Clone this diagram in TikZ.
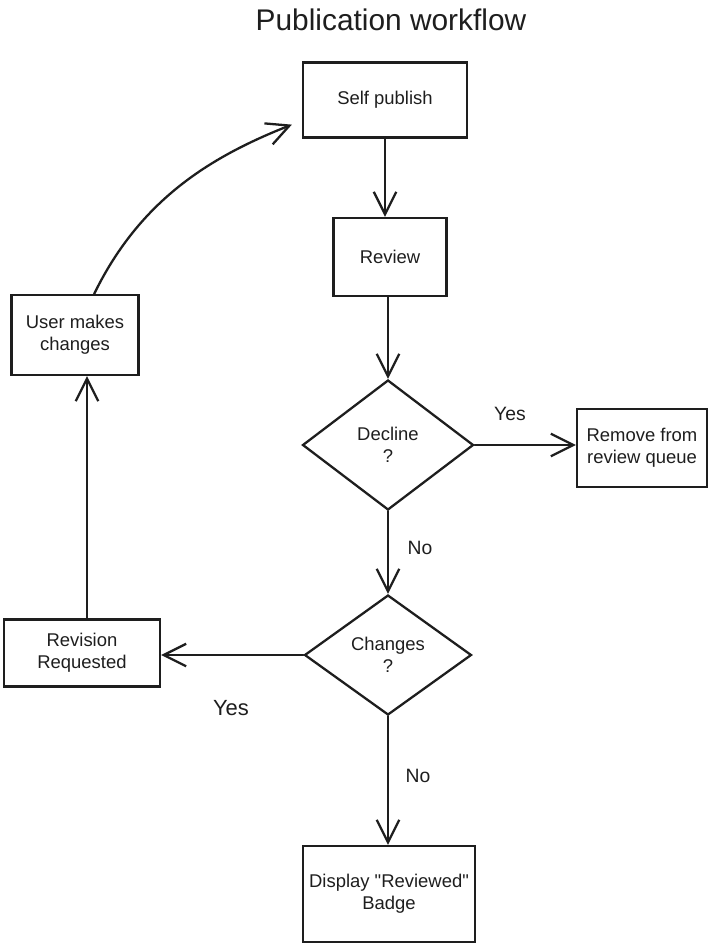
\documentclass[tikz,border=0pt]{standalone}
\usepackage{fontspec}
\setmainfont{Liberation Sans}
\usepackage{tikz}
\usetikzlibrary{arrows.meta,positioning,calc,shapes.geometric}
\definecolor{Ink}{HTML}{1E1E1E}

\begin{document}
\begin{tikzpicture}[
    x=0.02cm,y=-0.02cm,
    block/.style={rectangle,draw=Ink,text=Ink,line width=1.3pt,align=center,inner sep=0pt,font=\fontsize{10.5}{12.5}\selectfont},
    decision/.style={diamond,draw=Ink,text=Ink,line width=1.3pt,aspect=1.4,inner sep=1pt,align=center,font=\fontsize{10.5}{12.5}\selectfont},
    arrow/.style={-{Straight Barb[length=4.5mm,width=4.5mm]},line width=1.3pt,draw=Ink,line cap=round,line join=round},
    lbl/.style={text=Ink,font=\fontsize{11}{13}\selectfont}
]
\useasboundingbox (0,0) rectangle (709,946);
\node[text=Ink,font=\fontsize{17}{20}\selectfont] (title) at (391,20) {Publication workflow};
\node[block,minimum width=3.28cm,minimum height=1.5cm] (pub) at (385,100) {Self publish};
\node[block,minimum width=2.26cm,minimum height=1.56cm] (review) at (390,257) {Review};
\node[decision,minimum width=3.42cm,minimum height=2.6cm] (decline) at (388,445) {Decline\\?};
\node[block,minimum width=2.6cm,minimum height=1.56cm] (remove) at (642,448) {Remove from\\review queue};
\node[decision,minimum width=3.34cm,minimum height=2.4cm] (changes) at (388,655) {Changes\\?};
\node[block,minimum width=3.12cm,minimum height=1.34cm] (revision) at (82,653) {Revision\\Requested};
\node[block,minimum width=2.54cm,minimum height=1.6cm] (user) at (75,335) {User makes\\changes};
\node[block,minimum width=3.44cm,minimum height=1.92cm] (display) at (389,894) {Display \textquotedbl Reviewed\textquotedbl\\Badge};
% edge labels
\node[lbl] (yes1) at (510,414) {Yes};
\node[lbl] (no1) at (420,548) {No};
\node[lbl,font=\fontsize{12.5}{14}\selectfont] (yes2) at (231,708) {Yes};
\node[lbl] (no2) at (418,776) {No};
% connectors
\coordinate (back) at ($(pub.south west)+(-10,-14)$);
\draw[arrow] (pub.south) -- (pub.south |- review.north);
\draw[arrow] (decline.north |- review.south) -- (decline.north);
\draw[arrow] (decline.east) -- (remove.west |- decline.east);
\draw[arrow] (decline.south) -- (changes.north);
\draw[arrow] (changes.west) -- (revision.east |- changes.west);
\draw[arrow] (changes.south) -- (changes.south |- display.north);
\draw[arrow] (revision.north -| 87,0) -- (user.south -| 87,0);
\draw[arrow] (user.65) .. controls (140,200) and (210,157) .. (back);
\end{tikzpicture}
\end{document}
